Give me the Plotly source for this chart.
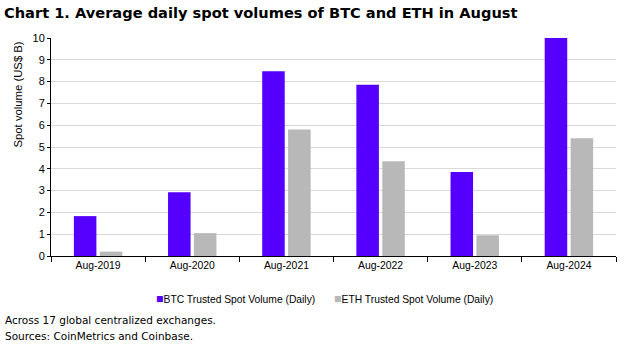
import plotly.graph_objects as go

categories = ["Aug-2019", "Aug-2020", "Aug-2021", "Aug-2022", "Aug-2023", "Aug-2024"]
btc = [1.83, 2.93, 8.48, 7.85, 3.85, 10.0]
eth = [0.20, 1.05, 5.80, 4.35, 0.95, 5.40]
btc_name = "BTC Trusted Spot Volume (Daily)"
eth_name = "ETH Trusted Spot Volume (Daily)"
btc_color = "#5500FF"
eth_color = "#B8B8B8"

W, H = 639, 347
L, R, T, B = 51, 23, 38, 91
pw = W - L - R
ph = H - T - B

sans = "Liberation Sans, Arial"

fig = go.Figure()
fig.add_trace(go.Bar(x=categories, y=btc, name=btc_name, marker_color=btc_color,
                     marker_line_width=0))
fig.add_trace(go.Bar(x=categories, y=eth, name=eth_name, marker_color=eth_color,
                     marker_line_width=0))


def px_x(p):
    return (p - L) / pw


def px_y(p):
    return (H - B - p) / ph


def legend_text(color, name):
    return f"<span style='color:{color};font-size:12.5px'>■</span>{name}"


fig.update_layout(
    width=W, height=H,
    margin=dict(l=L, r=R, t=T, b=B, pad=0),
    paper_bgcolor="white", plot_bgcolor="white",
    barmode="group", bargap=0.45, bargroupgap=0.13,
    font=dict(family=sans, size=11, color="black"),
    showlegend=False,
    xaxis=dict(showline=True, linecolor="black", linewidth=1, ticks="outside",
               tickson="boundaries", ticklen=5, tickcolor="black",
               tickfont=dict(family=sans, size=10.4), showgrid=False),
    yaxis=dict(range=[0, 10], dtick=1, showline=True, linecolor="black", linewidth=1,
               ticks="outside", ticklen=3, tickcolor="black",
               gridcolor="#D9D9D9", gridwidth=1, zeroline=False,
               tickfont=dict(family=sans, size=11)),
    annotations=[
        dict(text="<b>Chart 1. Average daily spot volumes of BTC and ETH in August</b>",
             xref="paper", yref="paper", x=px_x(2), y=px_y(13), xanchor="left", yanchor="middle",
             showarrow=False, font=dict(family="DejaVu Sans", size=14.6, color="black")),
        dict(text="Spot volume (US$ B)", textangle=-90,
             xref="paper", yref="paper", x=px_x(17.5), y=px_y(95), xanchor="center", yanchor="middle",
             showarrow=False, font=dict(family=sans, size=11.3, color="black")),
        dict(text=legend_text(btc_color, btc_name),
             xref="paper", yref="paper", x=px_x(154), y=px_y(299), xanchor="left", yanchor="middle",
             showarrow=False, font=dict(family=sans, size=10.3, color="black")),
        dict(text=legend_text(eth_color, eth_name),
             xref="paper", yref="paper", x=px_x(332), y=px_y(299), xanchor="left", yanchor="middle",
             showarrow=False, font=dict(family=sans, size=10.3, color="black")),
        dict(text="Across 17 global centralized exchanges.",
             xref="paper", yref="paper", x=px_x(3), y=px_y(320), xanchor="left", yanchor="middle",
             showarrow=False, font=dict(family="DejaVu Sans", size=10.5, color="black")),
        dict(text="Sources: CoinMetrics and Coinbase.",
             xref="paper", yref="paper", x=px_x(3), y=px_y(336), xanchor="left", yanchor="middle",
             showarrow=False, font=dict(family="DejaVu Sans", size=10.5, color="black")),
    ],
)

fig.write_html("out.html")
